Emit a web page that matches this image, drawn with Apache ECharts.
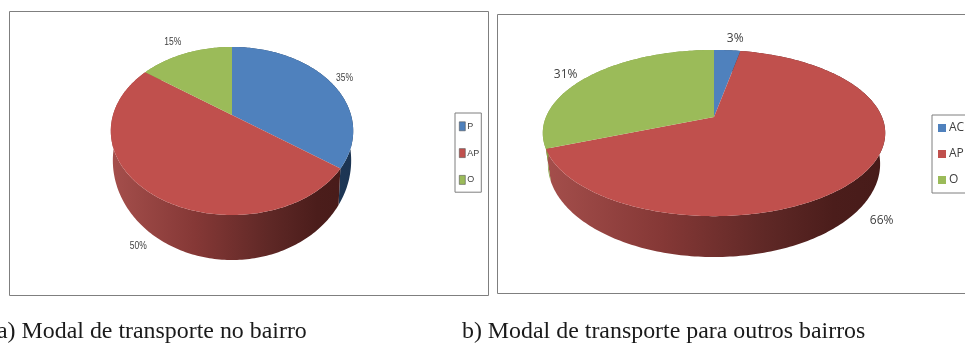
<!DOCTYPE html>
<html><head><meta charset="utf-8">
<style>html,body{margin:0;padding:0;background:#fff;overflow:hidden}#c{width:965px;height:343px}</style>
<script src="https://cdn.jsdelivr.net/npm/echarts@6/dist/echarts.min.js"></script></head>
<body><div id="c"></div>
<script>
// data
const categoriesA = ['P', 'AP', 'O'];
const valuesA = [35, 50, 15];
const categoriesB = ['AC', 'AP', 'O'];
const valuesB = [3, 66, 31];
const captionA = 'a) Modal de transporte no bairro';
const captionB = 'b) Modal de transporte para outros bairros';

// styles
const topColors = ['#4f81bd', '#c0504d', '#9bbb59'];
const redSide = [[0, '#a54f4c'], [0.35, '#853836'], [0.65, '#5f2826'], [0.85, '#4b1d1b'], [1, '#471b19']];
const sideStops = {
  blue: [[0, '#2a4a70'], [1, '#1c3553']],
  green: [[0, '#86a244'], [1, '#76923c']]
};
const layoutA = {
  x0: 232, y0: 115, a: 119, b: 81, k: 0.19, ba: 117, by: 141.5, bb: 96,
  labelFont: '10px "Liberation Sans",sans-serif', labelScale: 0.85,
  labelOffsets: [[15, -3], [-11, 54], [-13, -11]]
};
const layoutB = {
  x0: 714, y0: 117, a: 168, b: 80, k: 0.193, ba: 163, by: 146, bb: 89.6,
  labelFont: '12px "Open Sans",sans-serif', labelScale: 1,
  labelOffsets: [[8, -12], [20, 45], [-23, -2]]
};

const toRad = d => d * Math.PI / 180;
function rimPoint(L, deg) {
  const X = Math.sin(toRad(deg)), Y = -Math.cos(toRad(deg)), w = 1 - L.k * Y;
  return [L.x0 + L.a * X / w, L.y0 + L.b * Y / w];
}
function basePoint(L, deg) {
  const X = Math.sin(toRad(deg)), Y = -Math.cos(toRad(deg)), w = 1 - L.k * Y;
  return [L.x0 + L.ba * X / w, L.by + L.bb * Y / w];
}
function arc(fn, L, d0, d1) {
  const n = Math.max(2, Math.ceil(Math.abs(d1 - d0))), pts = [];
  for (let i = 0; i <= n; i++) pts.push(fn(L, d0 + (d1 - d0) * i / n));
  return pts;
}
function sideFill(L, idx) {
  const c = topColors[idx];
  const stops = c === '#c0504d' ? redSide : (c === '#4f81bd' ? sideStops.blue : sideStops.green);
  return new echarts.graphic.LinearGradient(L.x0 - L.a * 1.02, 0, L.x0 + L.a * 1.02, 0,
    stops.map(s => ({ offset: s[0], color: s[1] })), true);
}
function makeSeries(names, values, L) {
  const total = values.reduce((a, b) => a + b, 0);
  let acc = 0;
  return names.map((name, idx) => {
    const startShare = acc; acc += values[idx];
    return {
      type: 'custom', name, coordinateSystem: 'none', silent: true, animation: false,
      itemStyle: { color: topColors[idx] },
      data: [[values[idx]]],
      renderItem: (params, api) => {
        const d0 = startShare / total * 360;
        const d1 = d0 + api.value(0) / total * 360;
        const rim = arc(rimPoint, L, d0, d1);
        const side = rim.concat(arc(basePoint, L, d1, d0));
        const mid = rimPoint(L, (d0 + d1) / 2), off = L.labelOffsets[idx];
        return { type: 'group', children: [
          { type: 'polygon', z2: 1, shape: { points: side }, style: { fill: sideFill(L, idx) } },
          { type: 'polygon', z2: 10, shape: { points: [[L.x0, L.y0]].concat(rim) }, style: { fill: topColors[idx] } },
          { type: 'text', z2: 20, x: mid[0] + off[0], y: mid[1] + off[1], scaleX: L.labelScale,
            style: { text: api.value(0) + '%', font: L.labelFont, fill: '#404040', align: 'center', verticalAlign: 'middle' } }
        ] };
      }
    };
  });
}
const frame = (x, y, w, h) => ({ type: 'rect', silent: true, z: 0, shape: { x: x + .5, y: y + .5, width: w, height: h },
  style: { fill: '#fff', stroke: '#7f7f7f', lineWidth: 1 } });
const caption = (x, text) => ({ type: 'text', x, y: 332, z: 5, silent: true,
  style: { text, font: '23.9px "Liberation Serif",serif', fill: '#1a1a1a', verticalAlign: 'middle' } });

const chart = echarts.init(document.getElementById('c'), null, { renderer: 'canvas' });
chart.setOption({
  animation: false,
  backgroundColor: '#fff',
  graphic: [frame(9, 11, 479, 284), frame(497, 14, 490, 279), caption(-3, captionA), caption(462, captionB)],
  legend: [
    { data: categoriesA, orient: 'vertical', left: 455, top: 113, padding: [8.5, 2, 7.5, 4], itemGap: 17.2,
      itemWidth: 6, itemHeight: 9, icon: 'rect', borderColor: '#7f7f7f', borderWidth: 1, selectedMode: false,
      itemStyle: { borderColor: '#555', borderWidth: 0.6 },
      textStyle: { fontFamily: '"Liberation Sans",sans-serif', fontSize: 9, color: '#404040', padding: [0, 0, 0, -3] } },
    { data: categoriesB, orient: 'vertical', left: 932, top: 115, padding: [7, 30, 7, 6], itemGap: 14,
      itemWidth: 8, itemHeight: 8, icon: 'rect', borderColor: '#7f7f7f', borderWidth: 1, selectedMode: false,
      textStyle: { fontFamily: '"Open Sans",sans-serif', fontSize: 12, color: '#404040', padding: [0, 0, 0, -2] } }
  ],
  series: makeSeries(categoriesA, valuesA, layoutA).concat(makeSeries(categoriesB, valuesB, layoutB))
});
</script></body></html>
